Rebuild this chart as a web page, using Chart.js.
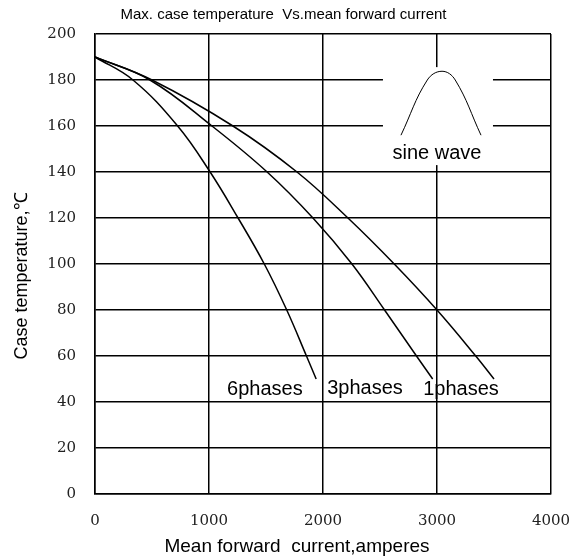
<!DOCTYPE html>
<html>
<head>
<meta charset="utf-8">
<script src="https://cdn.jsdelivr.net/npm/chart.js@4"></script>
<style>
  html, body { margin: 0; padding: 0; background: #fff; }
  #wrap { width: 581px; height: 560px; }
</style>
</head>
<body>
<div id="wrap"><canvas id="tempChart" width="581" height="560"></canvas></div>
<script>
// temperatures shared by all three curves (deg C)
const curveTemps = [190, 180, 160, 140, 120, 100, 80, 60, 50];
// mean forward current at each of those temperatures (A)
const sixPhaseCurrent = [0, 333, 725, 1010, 1255, 1485, 1682, 1855, 1940];
const threePhaseCurrent = [0, 482, 1026, 1510, 1912, 2254, 2540, 2820, 2962];
const onePhaseCurrent = [0, 500, 1210, 1772, 2219, 2625, 3000, 3340, 3500];

// little sine-wave sketch in the corner (data units)
const sineX = [2684, 2915, 3044, 3160, 3386];
const sineY = [156, 180, 183.8, 180, 156];
const sineBoxX = [2526, 3491];
const sineBoxY = [143, 185.6];
const sineLabel = { text: "sine wave", x: 3000, y: 148 };

const curveLabels = [
  { text: "6phases", x: 1490, y: 45.5 },
  { text: "3phases", x: 2368, y: 46 },
  { text: "1phases", x: 3211, y: 45.5 }
];

const xTicks = [0, 1000, 2000, 3000, 4000];
const yTicks = [0, 20, 40, 60, 80, 100, 120, 140, 160, 180, 200];

const chartTitle = 'Max. case temperature  Vs.mean forward current';
const xTitle = 'Mean forward  current,amperes';
const yTitle = 'Case temperature,\u2103';

const SANS = "'Liberation Sans', Arial, sans-serif";
const SERIF = "'DejaVu Serif', serif";

function toPoints(xs, ys) {
  return xs.map((x, i) => ({ x: x, y: ys[i] }));
}

function curve(label, xs) {
  return {
    label: label,
    data: toPoints(xs, curveTemps),
    showLine: true,
    borderColor: '#000',
    borderWidth: 1.5,
    pointRadius: 0,
    tension: 0.4,
    fill: false
  };
}

// white patch behind the sine sketch, then all the texts
const annotations = {
  id: 'annotations',
  beforeDatasetsDraw(chart) {
    const { ctx, scales: { x, y } } = chart;
    ctx.save();
    ctx.fillStyle = '#fff';
    const x0 = x.getPixelForValue(sineBoxX[0]);
    const x1 = x.getPixelForValue(sineBoxX[1]);
    const y0 = y.getPixelForValue(sineBoxY[1]);
    const y1 = y.getPixelForValue(sineBoxY[0]);
    ctx.fillRect(x0, y0, x1 - x0, y1 - y0);
    ctx.restore();
  },
  afterDraw(chart) {
    const { ctx, chartArea, scales: { x, y } } = chart;
    ctx.save();
    ctx.fillStyle = '#000';
    ctx.textAlign = 'center';
    ctx.textBaseline = 'middle';

    ctx.font = '20px ' + SANS;
    curveLabels.concat([sineLabel]).forEach(l => {
      ctx.fillText(l.text, x.getPixelForValue(l.x), y.getPixelForValue(l.y));
    });

    ctx.font = '15px ' + SANS;
    ctx.fillText(chartTitle, chart.width / 2 - 7, chartArea.top - 19);

    ctx.font = '19px ' + SANS;
    ctx.fillText(xTitle, (chartArea.left + chartArea.right) / 2 - 26, chartArea.bottom + 53);

    ctx.font = '18px ' + SANS;
    ctx.translate(22, (chartArea.top + chartArea.bottom) / 2 + 12);
    ctx.rotate(-Math.PI / 2);
    ctx.fillText(yTitle, 0, 0);
    ctx.restore();
  }
};

new Chart(document.getElementById('tempChart'), {
  type: 'scatter',
  data: {
    datasets: [
      curve('6phases', sixPhaseCurrent),
      curve('3phases', threePhaseCurrent),
      curve('1phases', onePhaseCurrent),
      {
        label: 'sine',
        data: toPoints(sineX, sineY),
        showLine: true,
        borderColor: '#000',
        borderWidth: 1,
        pointRadius: 0,
        tension: 0.4
      }
    ]
  },
  options: {
    responsive: false,
    animation: false,
    layout: { padding: { left: 0, right: 30, top: 34, bottom: 0 } },
    plugins: {
      legend: { display: false },
      tooltip: { enabled: false },
      title: { display: false }
    },
    scales: {
      x: {
        type: 'linear',
        min: 0,
        max: 4000,
        afterBuildTicks: s => { s.ticks = xTicks.map(v => ({ value: v })); },
        afterFit: s => { s.height = 66; s.paddingLeft = 0; s.paddingRight = 0; },
        grid: { color: '#000', lineWidth: 1.5, drawTicks: false },
        border: { color: '#000', width: 1.5 },
        ticks: {
          color: '#222',
          font: { family: SERIF, size: 15 },
          padding: 18,
          callback: v => String(v)
        }
      },
      y: {
        min: 0,
        max: 200,
        afterBuildTicks: s => { s.ticks = yTicks.map(v => ({ value: v })); },
        afterFit: s => { s.width = 95; s.paddingTop = 0; s.paddingBottom = 0; },
        grid: { color: '#000', lineWidth: 1.5, drawTicks: false },
        border: { color: '#000', width: 1.5 },
        ticks: {
          color: '#222',
          font: { family: SERIF, size: 15 },
          padding: 19,
          callback: v => String(v)
        }
      }
    }
  },
  plugins: [annotations]
});
</script>
</body>
</html>
